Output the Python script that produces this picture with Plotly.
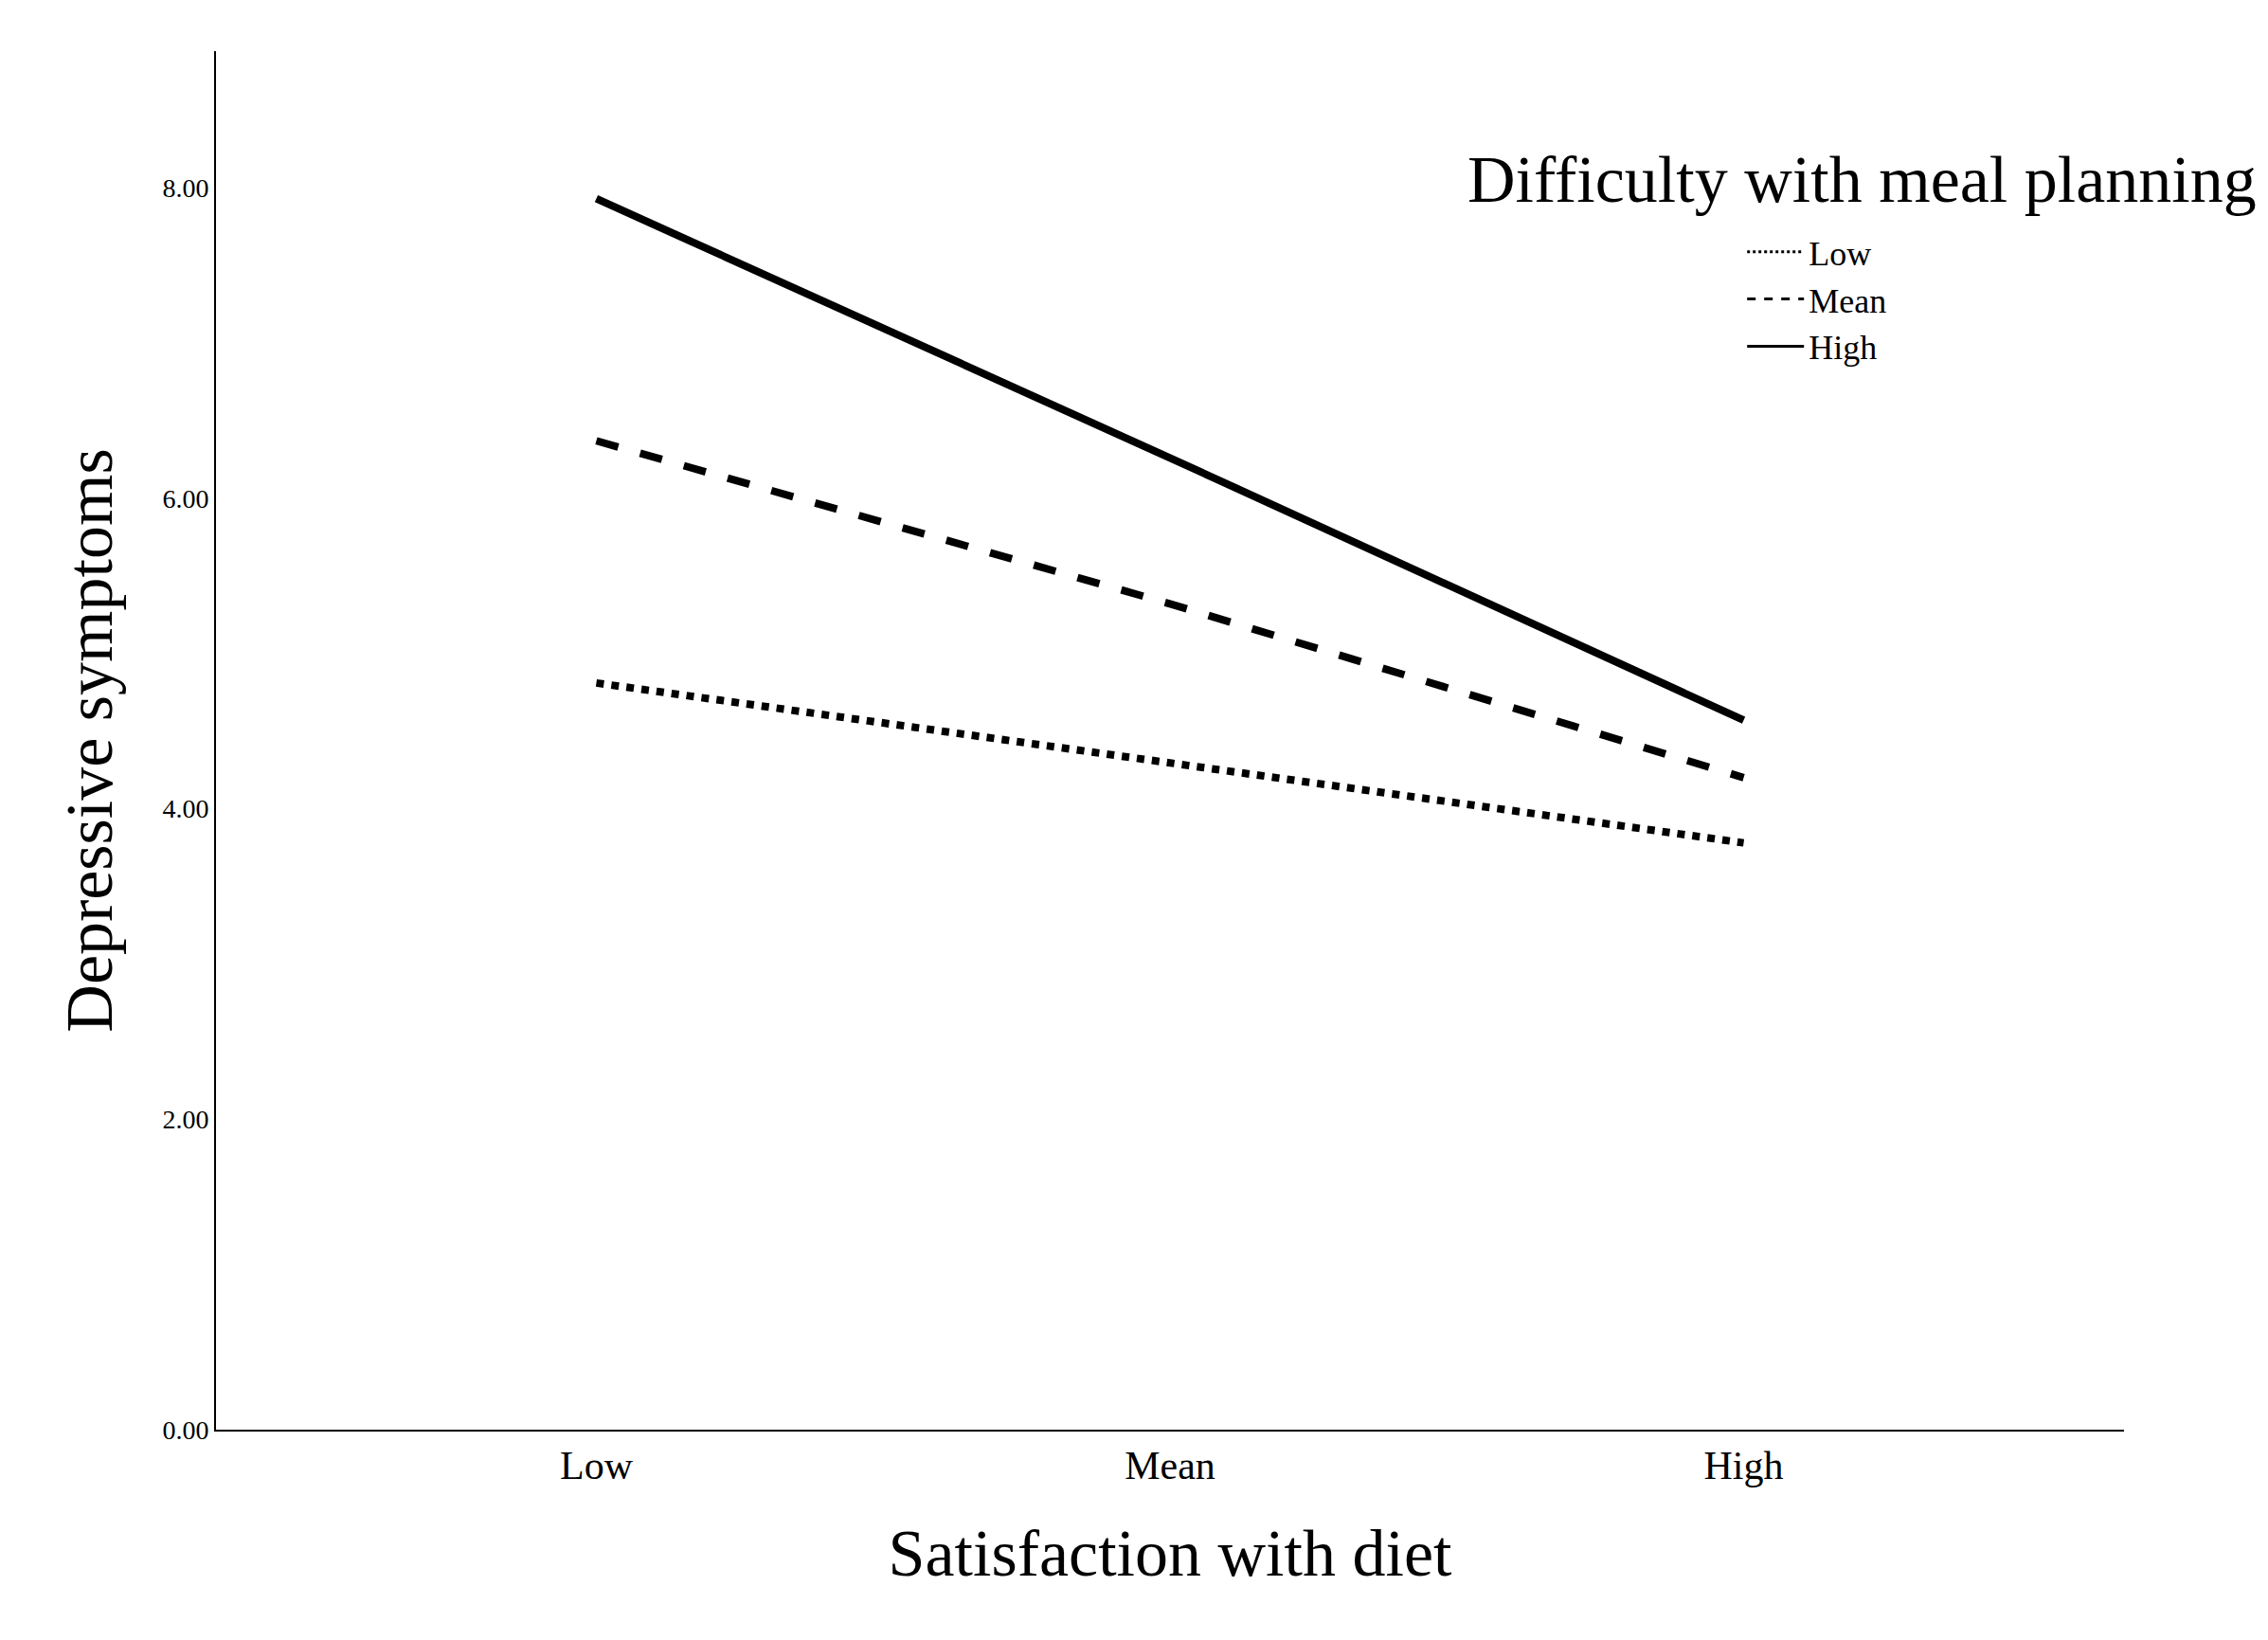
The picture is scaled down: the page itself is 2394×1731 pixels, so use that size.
import plotly.graph_objects as go

categories = ["Low", "Mean", "High"]
x_pos = [0, 1, 2]
low_vals = [4.81, 4.29, 3.78]
mean_vals = [6.37, 5.32, 4.20]
high_vals = [7.93, 6.26, 4.57]
yticks = [0, 2, 4, 6, 8]

fig = go.Figure()
for name, vals, dash in [("Low", low_vals, "dot"), ("Mean", mean_vals, "dash"), ("High", high_vals, "solid")]:
    fig.add_trace(go.Scatter(x=x_pos, y=vals, mode="lines", name=name, showlegend=False,
                             line=dict(color="black", width=8, dash=dash)))
    # thin sample for the legend, like the original
    fig.add_trace(go.Scatter(x=[None], y=[None], mode="lines", name=name,
                             line=dict(color="black", width=3, dash=dash)))

font = "Liberation Serif"
fig.update_layout(
    width=2394, height=1731,
    paper_bgcolor="white", plot_bgcolor="white",
    margin=dict(l=220, r=160, t=46, b=230),
    font=dict(family=font, color="black"),
    legend=dict(x=0.80, y=0.875, xanchor="left", yanchor="top",
                font=dict(size=36, family=font), bgcolor="rgba(0,0,0,0)",
                tracegroupgap=0, itemwidth=60),
    annotations=[dict(text="Difficulty with meal planning", x=0.655, y=0.907,
                      xref="paper", yref="paper", xanchor="left", yanchor="middle",
                      showarrow=False, font=dict(size=70, family=font))],
    xaxis=dict(range=[-0.663, 2.663], tickvals=x_pos, ticktext=categories,
               showgrid=False, zeroline=False, showline=True, linecolor="black", linewidth=2,
               tickfont=dict(size=42, family=font),
               title=dict(text="Satisfaction with diet", font=dict(size=70, family=font), standoff=45)),
    yaxis=dict(range=[0, 8.88], tickvals=yticks, ticktext=[f"{v:.2f}" for v in yticks],
               showgrid=False, zeroline=False, showline=True, linecolor="black", linewidth=2,
               tickfont=dict(size=28, family=font),
               title=dict(text="Depressive symptoms", font=dict(size=70, family=font), standoff=30)),
)
fig.write_html("out.html")
